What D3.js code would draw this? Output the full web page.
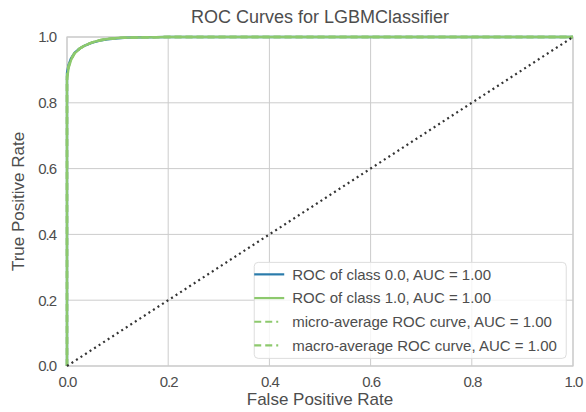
<!DOCTYPE html>
<html>
<head>
<meta charset="utf-8">
<script src="https://cdn.jsdelivr.net/npm/d3@7"></script>
<style>
  body { margin: 0; background: #fff; }
  text { font-family: "Liberation Sans", Arial, sans-serif; fill: #4d4d4d; }
</style>
</head>
<body>
<div id="chart"></div>
<script>
// ROC points
const fprClass0 = [0, 0, 0.003, 0.008, 0.015, 0.025, 0.035, 0.05, 0.065, 0.08, 0.1, 0.12, 0.15, 0.2, 1];
const tprClass0 = [0, 0.89, 0.915, 0.935, 0.952, 0.965, 0.974, 0.983, 0.989, 0.993, 0.996, 0.998, 0.999, 1, 1];
const fprClass1 = [0, 0, 0.003, 0.008, 0.015, 0.025, 0.035, 0.05, 0.065, 0.08, 0.1, 0.12, 0.15, 0.2, 1];
const tprClass1 = [0, 0.87, 0.905, 0.93, 0.95, 0.964, 0.974, 0.984, 0.99, 0.994, 0.997, 0.998, 0.999, 1, 1];
const fprMicro = fprClass0;
const tprMicro = [0, 0.88, 0.91, 0.932, 0.951, 0.965, 0.974, 0.984, 0.99, 0.994, 0.997, 0.998, 0.999, 1, 1];
const fprMacro = fprClass0;
const tprMacro = tprMicro;

const tickValues = [0, 0.2, 0.4, 0.6, 0.8, 1.0];
const legendLabels = [
  'ROC of class 0.0, AUC = 1.00',
  'ROC of class 1.0, AUC = 1.00',
  'micro-average ROC curve, AUC = 1.00',
  'macro-average ROC curve, AUC = 1.00'
];

const width = 586, height = 412;
const margin = {top: 37, right: 13, bottom: 46, left: 67};
const innerW = width - margin.left - margin.right;
const innerH = height - margin.top - margin.bottom;

const svg = d3.select('#chart').append('svg')
  .attr('width', width)
  .attr('height', height);

const chart = svg.append('g')
  .attr('transform', `translate(${margin.left},${margin.top})`);

const x = d3.scaleLinear().domain([0, 1]).range([0, innerW]);
const y = d3.scaleLinear().domain([0, 1]).range([innerH, 0]);

// grid
chart.selectAll('.vgrid')
  .data(tickValues)
  .join('line')
  .attr('x1', d => x(d)).attr('x2', d => x(d))
  .attr('y1', 0).attr('y2', innerH)
  .attr('stroke', '#cccccc').attr('stroke-width', 1);

chart.selectAll('.hgrid')
  .data(tickValues)
  .join('line')
  .attr('y1', d => y(d)).attr('y2', d => y(d))
  .attr('x1', 0).attr('x2', innerW)
  .attr('stroke', '#cccccc').attr('stroke-width', 1);

chart.append('rect')
  .attr('width', innerW).attr('height', innerH)
  .attr('fill', 'none').attr('stroke', '#cccccc').attr('stroke-width', 1.2);

// axes (labels only)
const xAxis = chart.append('g')
  .attr('transform', `translate(0,${innerH})`)
  .call(d3.axisBottom(x).tickValues(tickValues).tickFormat(d3.format('.1f')).tickSize(0).tickPadding(10));
const yAxis = chart.append('g')
  .call(d3.axisLeft(y).tickValues(tickValues).tickFormat(d3.format('.1f')).tickSize(0).tickPadding(11));
[xAxis, yAxis].forEach(a => {
  a.select('.domain').remove();
  a.selectAll('text').attr('font-size', 15).attr('fill', '#4d4d4d')
    .attr('letter-spacing', '-1px')
    .attr('font-family', '"Liberation Sans", Arial, sans-serif');
});

const line = d3.line().x(d => x(d[0])).y(d => y(d[1]));
const zipPts = (a, b) => a.map((v, i) => [v, b[i]]);

const series = [
  {pts: zipPts(fprClass0, tprClass0), color: '#2a7bab', dash: null},
  {pts: zipPts(fprClass1, tprClass1), color: '#8dc96d', dash: null},
  {pts: zipPts(fprMicro, tprMicro), color: '#8dc96d', dash: '7,4'},
  {pts: zipPts(fprMacro, tprMacro), color: '#8dc96d', dash: '7,4'}
];

chart.selectAll('.roc')
  .data(series)
  .join('path')
  .attr('class', 'roc')
  .attr('d', d => line(d.pts))
  .attr('fill', 'none')
  .attr('stroke', d => d.color)
  .attr('stroke-width', 2.4)
  .attr('stroke-dasharray', d => d.dash);

// diagonal
chart.append('path')
  .attr('d', line([[0, 0], [1, 1]]))
  .attr('fill', 'none')
  .attr('stroke', '#333333')
  .attr('stroke-width', 2.2)
  .attr('stroke-dasharray', '2,3.4');

// legend
const legend = chart.append('g')
  .attr('transform', `translate(${x(0.37)},${y(0.315)})`);
legend.append('rect')
  .attr('width', 312).attr('height', 96).attr('rx', 4)
  .attr('fill', 'rgba(255,255,255,0.8)').attr('stroke', '#dddddd');

const items = legend.selectAll('.item')
  .data(series)
  .join('g')
  .attr('transform', (d, i) => `translate(0,${12 + i * 23.7})`);
items.append('line')
  .attr('x1', 0).attr('x2', 30)
  .attr('stroke', d => d.color).attr('stroke-width', 2.2)
  .attr('stroke-dasharray', d => d.dash ? '7,4,7,4,2' : null);
items.append('text')
  .attr('x', 38).attr('dy', '0.35em')
  .attr('font-size', 15)
  .text((d, i) => legendLabels[i]);

// titles
svg.append('text')
  .attr('x', margin.left + innerW / 2).attr('y', 23)
  .attr('text-anchor', 'middle').attr('font-size', 18)
  .text('ROC Curves for LGBMClassifier');
svg.append('text')
  .attr('x', margin.left + innerW / 2).attr('y', 405)
  .attr('text-anchor', 'middle').attr('font-size', 17)
  .text('False Positive Rate');
svg.append('text')
  .attr('transform', `translate(24,${margin.top + innerH / 2}) rotate(-90)`)
  .attr('text-anchor', 'middle').attr('font-size', 17)
  .text('True Positive Rate');
</script>
</body>
</html>
